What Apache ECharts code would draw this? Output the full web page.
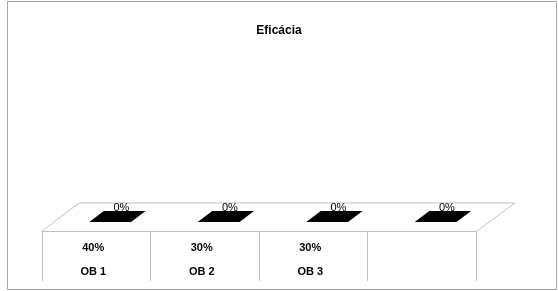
<!DOCTYPE html>
<html>
<head>
<meta charset="utf-8">
<script src="https://cdn.jsdelivr.net/npm/echarts@6/dist/echarts.min.js"></script>
<style>
  html, body { margin: 0; padding: 0; background: #fff; }
  #chart { width: 558px; height: 291px; }
</style>
</head>
<body>
<div id="chart"></div>
<script>
// data
const categories = ["OB 1", "OB 2", "OB 3", ""];
const barValues = [0, 0, 0, 0];
const tableValues = [40, 30, 30, null];

const FONT = "Liberation Sans";
const SKEW = 37 / 28; // x shift per pixel of depth
const lineColor = "#bfbfbf";

const chart = echarts.init(document.getElementById("chart"));

const renderBar = (params, api) => {
  const idx = api.value(0);
  const val = api.value(1);
  const base = api.coord([idx, 0]);
  const top = api.coord([idx, val]);
  const w = api.size([1, 0])[0] * 0.385;
  const d1 = 9, d2 = 20;
  const cx = base[0] + 2;
  const y0 = base[1];
  const h = y0 - top[1];
  const fx = cx + d1 * SKEW, bx = cx + d2 * SKEW;
  const fy = y0 - d1 - h, by = y0 - d2 - h;
  const children = [];
  if (h > 0) {
    children.push({
      type: "rect",
      shape: { x: fx - w / 2, y: fy, width: w, height: h },
      style: { fill: "#000" }
    });
  }
  children.push({
    type: "polygon",
    shape: {
      points: [
        [fx - w / 2, fy],
        [bx - w / 2, by],
        [bx + w / 2, by],
        [fx + w / 2, fy]
      ]
    },
    style: { fill: "#000" }
  });
  children.push({
    type: "text",
    style: {
      text: val + "%",
      x: (fx + bx) / 2 + 4,
      y: by + 2,
      align: "center",
      verticalAlign: "bottom",
      fill: "#000",
      font: "11px '" + FONT + "'"
    }
  });
  return { type: "group", children };
};

const option = {
  animation: false,
  title: {
    text: "Eficácia",
    left: "center",
    top: 20,
    textStyle: { fontFamily: FONT, fontSize: 12, fontWeight: "bold", color: "#000" }
  },
  grid: { left: 42, right: 82, top: 60, bottom: 60 },
  xAxis: {
    type: "category",
    data: categories,
    boundaryGap: true,
    axisLine: { lineStyle: { color: lineColor, width: 1 } },
    axisTick: { show: true, length: 50, interval: 0, lineStyle: { color: lineColor } },
    axisLabel: {
      interval: 0,
      margin: 5,
      padding: [0, 6, 0, 0],
      formatter: (v, i) =>
        tableValues[i] == null ? "" : `{v|${tableValues[i]}%}\n{c|${v}}`,
      rich: {
        v: { fontFamily: FONT, fontSize: 11, fontWeight: "bold", color: "#000", lineHeight: 24 },
        c: { fontFamily: FONT, fontSize: 11, fontWeight: "bold", color: "#000", lineHeight: 24 }
      }
    }
  },
  yAxis: { type: "value", min: 0, max: 100, show: false },
  graphic: [
    {
      type: "rect",
      shape: { x: 7.5, y: 1.5, width: 549, height: 288 },
      style: { fill: "none", stroke: "#a6a6a6", lineWidth: 1 },
      silent: true
    },
    {
      type: "polyline",
      shape: { points: [[42, 231], [79, 203], [515, 203], [477, 231]] },
      style: { fill: "none", stroke: lineColor, lineWidth: 1 },
      silent: true
    }
  ],
  series: [
    {
      type: "custom",
      renderItem: renderBar,
      data: barValues.map((v, i) => [i, v])
    }
  ]
};

chart.setOption(option);
</script>
</body>
</html>
